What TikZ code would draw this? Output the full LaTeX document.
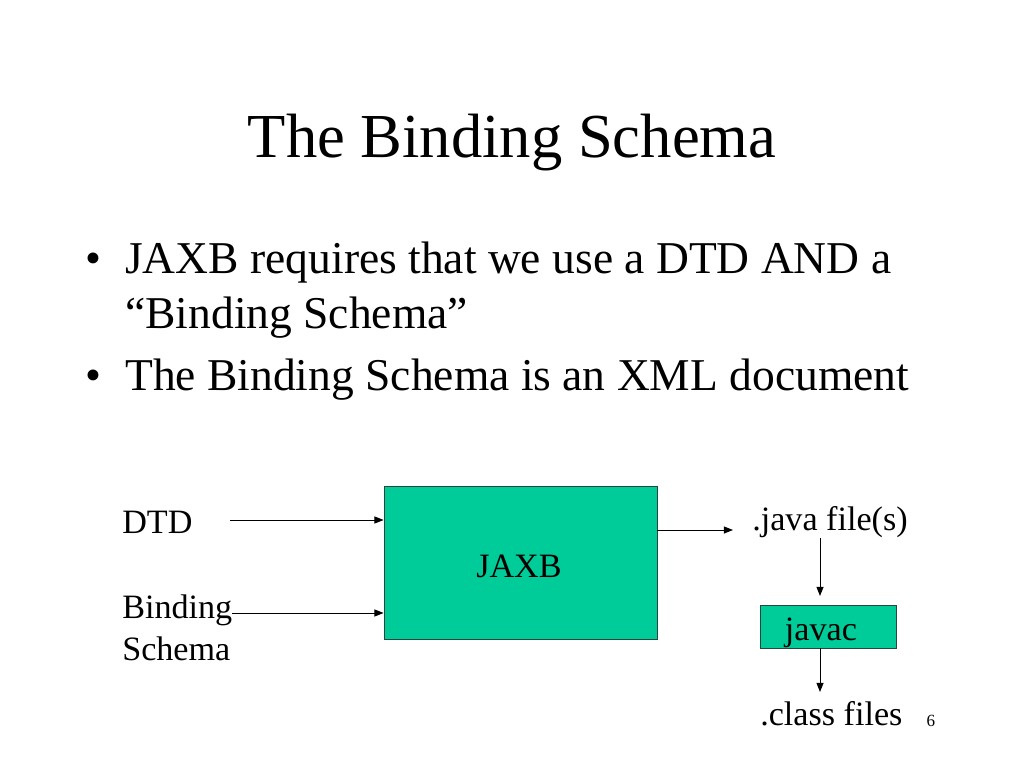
\documentclass[tikz,border=0pt]{standalone}
\usepackage{fontspec}
\setmainfont{Liberation Serif}
\usetikzlibrary{arrows.meta}
\definecolor{boxgreen}{RGB}{0,204,153}
\definecolor{boxline}{RGB}{40,70,60}
\tikzset{
    arr/.style={-{Triangle[length=6.5pt,width=5pt]}, line width=0.7pt},
    prog/.style={draw=boxline, line width=0.6pt, fill=boxgreen, inner sep=0pt},
    txt/.style={inner sep=0pt, anchor=base west, font=\fontsize{24}{29.5}\selectfont}
}
\begin{document}
\begin{tikzpicture}[x=0.703pt, y=-0.703pt]
    \useasboundingbox (0,0) rectangle (1024,768);

    % 绘制标题
    \node[inner sep=0pt, anchor=base, font=\fontsize{44}{53}\selectfont] (title) at (512,157) {The Binding Schema};

    % 绘制要点
    \node[inner sep=0pt, anchor=base west, font=\fontsize{32}{38}\selectfont] (b1) at (85,273) {•};
    \node[inner sep=0pt, anchor=base west, font=\fontsize{32}{38}\selectfont] (t1) at (125,273) {JAXB requires that we use a DTD AND a};
    \node[inner sep=0pt, anchor=base west, font=\fontsize{32}{38}\selectfont] (t1b) at (125,328) {“Binding Schema”};
    \node[inner sep=0pt, anchor=base west, font=\fontsize{32}{38}\selectfont] (b2) at (85,390) {•};
    \node[inner sep=0pt, anchor=base west, font=\fontsize{32}{38}\selectfont] (t2) at (125,390) {The Binding Schema is an XML document};

    % 绘制JAXB方框
    \node[prog, minimum width=273*0.703pt, minimum height=153*0.703pt] (jaxb) at (520.5,562.5) {};
    \node[txt, anchor=base] (jaxbtxt) at (519,577) {JAXB};

    % 绘制输入
    \node[txt] (dtd) at (122,533) {DTD};
    \node[txt, align=left] (bind) at (122,660) {Binding\\Schema};
    \coordinate (dtdout) at (230,520);
    \coordinate (bindout) at (232,613);
    \draw[arr] (dtdout) -- (jaxb.west |- dtdout);
    \draw[arr] (bindout) -- (jaxb.west |- bindout);

    % 绘制输出
    \node[txt] (java) at (752,530) {.java file(s)};
    \coordinate (jaxbout) at (657,530);
    \coordinate (javain) at (733,530);
    \draw[arr] (jaxbout) -- (javain);

    % 绘制javac方框
    \node[prog, minimum width=136*0.703pt, minimum height=43*0.703pt] (javac) at (828,626.5) {};
    \node[txt, anchor=base] (javactxt) at (821,640) {javac};
    \coordinate (javaout) at (820,538);
    \coordinate (javacin) at (820,596);
    \draw[arr] (javaout) -- (javacin);

    % 绘制class文件
    \node[txt] (cls) at (760,725) {.class files};
    \coordinate (clsin) at (820,692);
    \draw[arr] (javac.south -| clsin) -- (clsin);

    % 页码
    \node[inner sep=0pt, anchor=base, font=\fontsize{12}{14}\selectfont] (page) at (931,726) {6};

\end{tikzpicture}
\end{document}
